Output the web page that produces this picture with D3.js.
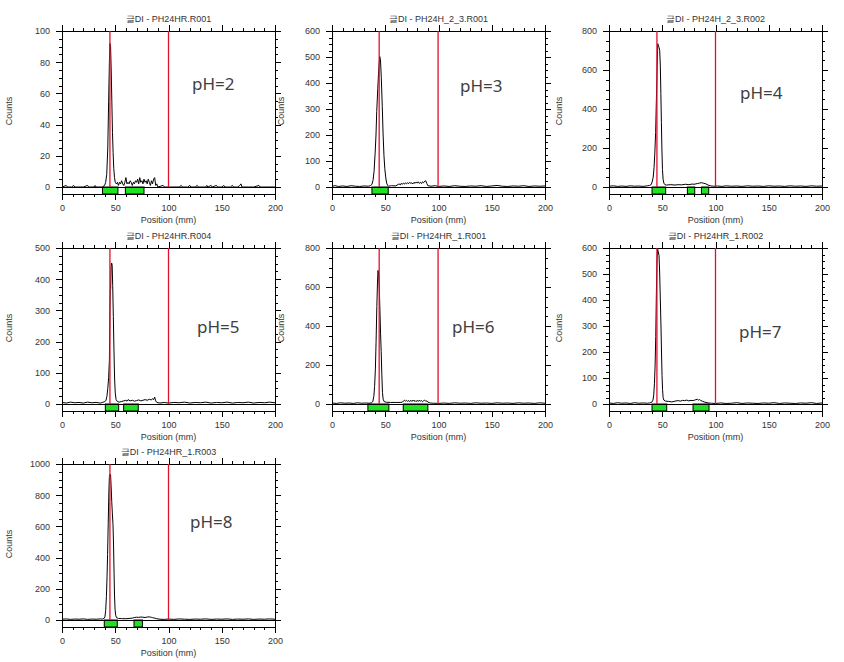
<!DOCTYPE html>
<html>
<head>
<meta charset="utf-8">
<script src="https://cdn.jsdelivr.net/npm/d3@7/dist/d3.min.js"></script>
<style>
html,body{margin:0;padding:0;background:#fff;}
svg{display:block;}
</style>
</head>
<body>
<svg id="chart" width="844" height="662"></svg>
<script>
// ---------- DATA ----------
const titles = [
  "글DI - PH24HR.R001",
  "글DI - PH24H_2_3.R001",
  "글DI - PH24H_2_3.R002",
  "글DI - PH24HR.R004",
  "글DI - PH24HR_1.R001",
  "글DI - PH24HR_1.R002",
  "글DI - PH24HR_1.R003"
];
const phLabels = ["pH=2","pH=3","pH=4","pH=5","pH=6","pH=7","pH=8"];
const yMax = [100, 600, 800, 500, 800, 600, 1000];
const yMajorStep = [20, 100, 200, 100, 200, 100, 200];
const yMinorStep = [5, 25, 50, 25, 50, 25, 50];
const xTicksMajor = [0, 50, 100, 150, 200];
const xMinorStep = 10;
const xMax = 200;

const redLines = [
  [45, 100], [44.3, 99.6], [45, 100], [45, 100], [44.3, 99.6], [45, 100], [45, 100]
];
const regions = [
  [[38, 52.5], [59.5, 77]],
  [[37.5, 52.8]],
  [[40.4, 53.2], [73.6, 80.5], [86.8, 93.6]],
  [[40.7, 53.2], [57.9, 71.6]],
  [[33.7, 53.4], [66.9, 90]],
  [[40.4, 54.2], [78.9, 93.9]],
  [[39.7, 51.9], [67.6, 75.5]]
];

const profilePH2 = [[0,0],[4,1],[5,0],[9,0],[11,1],[12,0],[20,0],[24,1],[25,0],[30,0],[31,1],[32,0],[38,0],[40,1],[41,3],[42,8],[43,25],[43.8,55],[44.5,80],[45,92],[45.6,90],[46.2,75],[46.8,55],[47.4,35],[48,22],[48.6,12],[49.3,6],[50,3],[51,2],[52,3],[53,1],[54,3],[55,2],[56,4],[57,2],[58,1],[59,3],[60,6],[61,2],[62,3],[63,2],[64,4],[65,3],[66,1],[67,3],[68,2],[69,4],[70,3],[71,5],[72,2],[73,6],[74,3],[75,4],[76,2],[77,5],[78,3],[79,4],[80,2],[81,5],[82,3],[83,1],[84,4],[85,2],[86,5],[87,6],[88,1],[89,2],[90,0],[95,1],[96,0],[110,0],[112,1],[113,0],[118,0],[120,1],[121,0],[125,0],[127,1],[128,0],[135,0],[136,1],[137,0],[140,1],[141,0],[145,1],[146,0],[150,0],[152,1],[153,0],[158,0],[160,1],[161,0],[165,0],[167,1],[168,2],[169,0],[175,0],[180,0],[185,1],[186,0],[200,0]];
const profilePH3 = [[0,3],[3,5],[6,2],[10,4],[14,2],[18,5],[22,3],[26,2],[30,4],[34,3],[36,5],[37.5,10],[38.5,25],[39.5,60],[40.5,130],[41.3,200],[42,290],[43,380],[44,460],[44.8,502],[45.5,490],[46.3,420],[47.2,310],[48,200],[48.8,120],[49.6,70],[50.5,35],[51.3,15],[52.3,6],[53,3],[56,5],[60,4],[62,10],[63,12],[64,8],[65,14],[66,10],[67,15],[68,11],[69,16],[70,12],[71,17],[72,13],[73,18],[74,14],[75,16],[76,12],[77,18],[78,14],[79,19],[80,15],[81,20],[82,14],[83,18],[84,13],[85,20],[86,16],[87,22],[88,24],[89,14],[90,5],[93,3],[97,5],[100,2],[105,4],[110,2],[115,5],[120,3],[125,2],[130,4],[135,3],[140,5],[145,2],[150,4],[155,6],[160,3],[165,2],[170,4],[175,3],[180,5],[185,2],[190,4],[195,3],[200,4]];
const profilePH4 = [[0,4],[4,6],[8,3],[12,5],[16,3],[20,6],[24,4],[28,5],[32,3],[36,6],[38,8],[39.5,12],[40.5,25],[41.5,50],[42.3,100],[43,170],[43.8,280],[44.5,450],[45.2,620],[45.8,735],[46.4,725],[47,715],[47.6,700],[48.2,620],[48.7,480],[49.2,330],[49.7,190],[50.2,90],[50.8,40],[51.5,20],[52.5,12],[54,10],[58,12],[62,10],[65,12],[68,11],[72,14],[75,12],[78,15],[80,14],[83,18],[85,20],[87,22],[89,19],[91,16],[93,10],[95,6],[98,4],[102,5],[106,3],[110,6],[115,4],[120,5],[125,3],[130,6],[135,4],[140,5],[145,3],[150,6],[155,4],[160,5],[165,3],[170,6],[175,4],[180,5],[185,3],[190,6],[195,4],[200,5]];
const profilePH5 = [[0,5],[4,3],[8,6],[12,4],[16,5],[20,3],[24,6],[28,4],[32,5],[36,3],[38,5],[40,7],[41.3,12],[42.2,25],[43,50],[43.8,85],[44.5,140],[45,300],[45.3,365],[45.7,370],[46.1,440],[46.6,452],[47.1,445],[47.6,380],[48.2,280],[48.8,170],[49.4,80],[50,35],[50.8,14],[52,8],[54,6],[56,8],[58,10],[60,12],[61,9],[62,14],[64,10],[66,12],[68,9],[70,11],[72,13],[74,10],[76,12],[78,14],[80,12],[82,15],[84,13],[85,17],[86,14],[87,22],[88,10],[89,5],[92,3],[96,5],[100,3],[105,5],[110,4],[115,6],[120,3],[125,5],[130,4],[135,6],[140,3],[145,5],[150,4],[155,6],[160,3],[165,5],[170,4],[175,6],[180,3],[185,5],[190,4],[195,6],[200,4]];
const profilePH6 = [[0,5],[4,3],[8,6],[12,4],[16,5],[20,3],[24,6],[28,4],[32,5],[35,4],[37,6],[38.3,12],[39.3,40],[40,90],[40.7,175],[41.4,320],[42.1,500],[42.7,620],[43.2,685],[43.8,660],[44.4,600],[45,480],[45.6,360],[46.2,270],[46.8,150],[47.4,60],[48,25],[49,12],[51,9],[55,8],[60,8],[64,8],[66,9],[67,15],[68,20],[69,14],[70,19],[71,13],[72,18],[73,12],[74,19],[75,13],[76,20],[77,14],[78,18],[79,12],[80,19],[81,13],[82,20],[83,14],[84,18],[85,12],[86,17],[87,20],[88,14],[89,16],[90,10],[92,5],[95,4],[100,3],[105,5],[110,3],[115,6],[120,4],[125,5],[130,3],[135,6],[140,4],[145,5],[150,3],[155,6],[160,4],[165,5],[170,3],[175,6],[180,4],[185,5],[190,3],[195,6],[200,4]];
const profilePH7 = [[0,4],[4,2],[8,5],[12,3],[16,4],[20,2],[24,5],[28,3],[32,4],[36,3],[38,4],[40,6],[41.3,15],[42,35],[42.7,80],[43.3,150],[43.9,260],[44.5,430],[45.1,560],[45.7,595],[46.3,585],[47,570],[47.6,500],[48.2,400],[48.8,300],[49.3,200],[49.8,110],[50.3,55],[50.8,25],[51.5,15],[53,11],[56,10],[59,8],[61,10],[63,12],[65,13],[67,11],[69,14],[71,13],[73,15],[75,12],[77,14],[79,13],[81,16],[83,18],[84,15],[85,17],[86,14],[88,10],[90,7],[93,4],[96,3],[100,2],[105,4],[110,2],[115,3],[120,5],[125,2],[130,4],[135,3],[140,2],[145,4],[150,3],[155,5],[160,2],[165,4],[170,3],[175,2],[180,4],[185,3],[190,5],[195,2],[200,4]];
const profilePH8 = [[0,5],[4,7],[8,4],[12,6],[16,5],[20,7],[24,4],[28,6],[32,5],[36,7],[38,6],[39.5,10],[40.3,20],[41,60],[41.7,150],[42.3,280],[42.8,420],[43.4,620],[44,820],[44.5,920],[45,935],[45.6,930],[46.1,860],[46.7,760],[47.3,680],[47.9,610],[48.4,480],[48.9,300],[49.3,160],[49.8,70],[50.4,30],[51.2,15],[53,10],[56,9],[60,8],[63,10],[66,12],[68,16],[70,18],[72,17],[74,19],[76,18],[78,16],[80,19],[82,20],[84,17],[85,15],[87,12],[89,8],[92,5],[96,4],[100,6],[105,4],[110,7],[115,5],[120,4],[125,6],[130,5],[135,7],[140,4],[145,6],[150,5],[155,7],[160,4],[165,6],[170,5],[175,7],[180,4],[185,6],[190,5],[195,7],[200,5]];
const profiles = [profilePH2, profilePH3, profilePH4, profilePH5, profilePH6, profilePH7, profilePH8];

// ---------- LAYOUT ----------
const colLeft = [62, 332, 609];
const rowTop = [31, 248, 464];
const plotW = 213, plotH = 156, stripH = 7;
const panelPos = [[0,0],[1,0],[2,0],[0,1],[1,1],[2,1],[0,2]];
const phOffset = [[130,59],[128,61],[131,68],[135,85],[120,85],[130,90],[128,64]];
const countsLabelX = [9, 281, 559];

const svg = d3.select("#chart");
svg.append("rect").attr("width",844).attr("height",662).attr("fill","#fff");

const FONT = "Liberation Sans, Arial, sans-serif";
const txtColor = "#333";

function range(a, b, s){ const r=[]; for(let v=a; v<=b+1e-9; v+=s) r.push(+v.toFixed(6)); return r; }

profiles.forEach((prof, i) => {
  const [c, r] = panelPos[i];
  const left = colLeft[c], top = rowTop[r];
  const zeroY = top + plotH, bottomY = zeroY + stripH, right = left + plotW;
  const x = d3.scaleLinear().domain([0, xMax]).range([left, right]);
  const y = d3.scaleLinear().domain([0, yMax[i]]).range([zeroY, top]);
  const g = svg.append("g");

  const xMinor = range(0, xMax, xMinorStep).filter(v => !xTicksMajor.includes(v));
  const yMajor = range(0, yMax[i], yMajorStep[i]);
  const yMinor = range(0, yMax[i], yMinorStep[i]).filter(v => !yMajor.includes(v));

  function styleAxis(sel){
    sel.select(".domain").remove();
    sel.selectAll("line").attr("stroke","#000").attr("shape-rendering","crispEdges");
    sel.selectAll("text").attr("fill", txtColor).style("font-family", FONT).style("font-size","9px");
  }

  // left axis
  g.append("g").attr("transform",`translate(${left},0)`)
    .call(d3.axisLeft(y).tickValues(yMinor).tickSize(3).tickFormat("")).call(styleAxis);
  g.append("g").attr("transform",`translate(${left},0)`)
    .call(d3.axisLeft(y).tickValues(yMajor).tickSize(6).tickPadding(6).tickFormat(d3.format("d"))).call(styleAxis);
  // right axis
  g.append("g").attr("transform",`translate(${right},0)`)
    .call(d3.axisRight(y).tickValues(yMinor).tickSize(3).tickFormat("")).call(styleAxis);
  g.append("g").attr("transform",`translate(${right},0)`)
    .call(d3.axisRight(y).tickValues(yMajor).tickSize(6).tickFormat("")).call(styleAxis);
  // top axis
  g.append("g").attr("transform",`translate(0,${top})`)
    .call(d3.axisTop(x).tickValues(xMinor).tickSize(3).tickFormat("")).call(styleAxis);
  g.append("g").attr("transform",`translate(0,${top})`)
    .call(d3.axisTop(x).tickValues(xTicksMajor).tickSize(6).tickFormat("")).call(styleAxis);
  // bottom axis
  g.append("g").attr("transform",`translate(0,${bottomY})`)
    .call(d3.axisBottom(x).tickValues(xMinor).tickSize(3).tickFormat("")).call(styleAxis);
  g.append("g").attr("transform",`translate(0,${bottomY})`)
    .call(d3.axisBottom(x).tickValues(xTicksMajor).tickSize(6).tickPadding(5).tickFormat(d3.format("d"))).call(styleAxis);

  // green regions
  g.selectAll("rect.reg").data(regions[i]).enter().append("rect")
    .attr("x", d => x(d[0])).attr("y", zeroY)
    .attr("width", d => x(d[1]) - x(d[0])).attr("height", stripH)
    .attr("fill", "#22e022").attr("stroke", "#000").attr("stroke-width", 1);

  // frame lines
  const frame = [
    [left, top, right, top],
    [left, top, left, bottomY],
    [right, top, right, bottomY],
    [left, zeroY, right, zeroY],
    [left, bottomY, right, bottomY]
  ];
  g.selectAll("line.frame").data(frame).enter().append("line")
    .attr("x1", d=>d[0]).attr("y1", d=>d[1]).attr("x2", d=>d[2]).attr("y2", d=>d[3])
    .attr("stroke","#000").attr("stroke-width",1).attr("shape-rendering","crispEdges");

  // profile curve
  const line = d3.line().x(d => x(d[0])).y(d => y(d[1]));
  g.append("path").datum(prof).attr("d", line)
    .attr("fill","none").attr("stroke","#000").attr("stroke-width",1);

  // red lines
  g.selectAll("line.red").data(redLines[i]).enter().append("line")
    .attr("x1", d => x(d)).attr("x2", d => x(d))
    .attr("y1", top).attr("y2", zeroY)
    .attr("stroke", "#e0102f").attr("stroke-width", 1.3);

  // title
  g.append("text").attr("x", (left+right)/2).attr("y", top - 9)
    .attr("text-anchor","middle").attr("fill", txtColor)
    .style("font-family", FONT).style("font-size","9px").text(titles[i]);
  // x label
  g.append("text").attr("x", (left+right)/2).attr("y", bottomY + 29)
    .attr("text-anchor","middle").attr("fill", txtColor)
    .style("font-family", FONT).style("font-size","9px").text("Position (mm)");
  // y label
  const cy = top + 80;
  g.append("text").attr("transform", `translate(${countsLabelX[c]+3},${cy}) rotate(-90)`)
    .attr("text-anchor","middle").attr("fill", txtColor)
    .style("font-family", FONT).style("font-size","9px").text("Counts");
  // pH label
  g.append("text").attr("x", left + phOffset[i][0]).attr("y", top + phOffset[i][1])
    .attr("fill", "#404040")
    .style("font-family", "Noto Sans, sans-serif").style("font-size","17px").text(phLabels[i]);
});
</script>
</body>
</html>
